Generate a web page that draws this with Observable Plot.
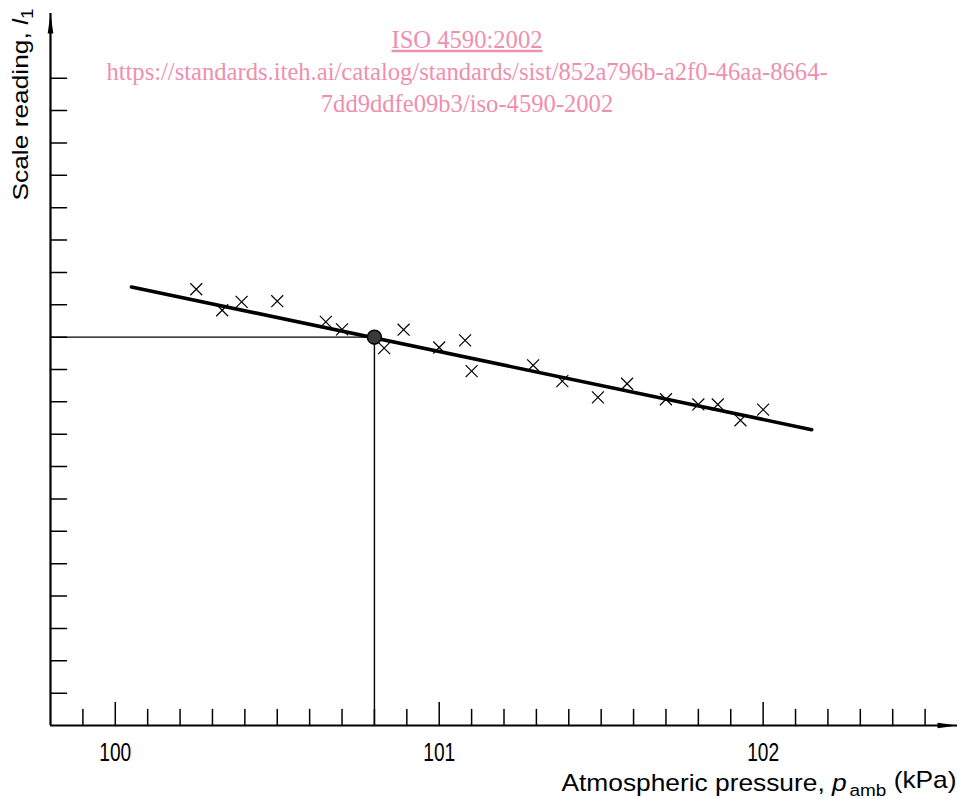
<!DOCTYPE html>
<html>
<head>
<meta charset="utf-8">
<script src="https://cdn.jsdelivr.net/npm/d3@7"></script>
<script src="https://cdn.jsdelivr.net/npm/@observablehq/plot@0.6"></script>
<style>
  html, body { margin: 0; padding: 0; background: #fff; }
  #chart svg { display: block; }
</style>
</head>
<body>
<div id="chart"></div>
<script>
// ---- data ----
const pressure = [100.25, 100.33, 100.39, 100.50, 100.65, 100.70, 100.83, 100.89, 101.00, 101.08,
                  101.10, 101.29, 101.38, 101.49, 101.58, 101.70, 101.80, 101.86, 101.93, 102.00];
const reading  = [13.48, 12.83, 13.09, 13.11, 12.47, 12.24, 11.66, 12.23, 11.68, 11.90,
                  10.95, 11.13, 10.64, 10.14, 10.56, 10.08, 9.92, 9.92, 9.43, 9.76];
const fitX = [100.05, 102.15];
const fitY = [13.55, 9.14];
const refX = [100.8];
const refY = [12];
const xMajorTicks = [100, 101, 102];
const xTickLabels = ["100", "101", "102"];
const xMinorTicks = [99.9, 100.1, 100.2, 100.3, 100.4, 100.5, 100.6, 100.7, 100.8, 100.9,
                     101.1, 101.2, 101.3, 101.4, 101.5, 101.6, 101.7, 101.8, 101.9,
                     102.1, 102.2, 102.3, 102.4, 102.5];
const yTicks = [1,2,3,4,5,6,7,8,9,10,11,12,13,14,15,16,17,18,19,20];
const xDomain = [99.8, 102.6];
const yDomain = [0, 22];
const xLabelParts = ["Atmospheric pressure, ", "p", "amb", " (kPa)"];
const yLabelParts = ["Scale reading, ", "l", "1"];
const watermark = ["ISO 4590:2002",
  "https://standards.iteh.ai/catalog/standards/sist/852a796b-a2f0-46aa-8664-",
  "7dd9ddfe09b3/iso-4590-2002"];

// ---- tables built from the arrays ----
const points = pressure.map((p, i) => ({p, r: reading[i]}));
const fit = fitX.map((x, i) => ({x, y: fitY[i]}));
const ref = refX.map((x, i) => ({x, y: refY[i]}));

const tickShape = { draw(ctx, l) { ctx.moveTo(0, 0); ctx.lineTo(0, -l); } };
const arrowHead = { draw(ctx) { ctx.moveTo(0, 0); ctx.lineTo(-2.8, 20); ctx.lineTo(2.8, 20); ctx.closePath(); } };

const sans = "'Liberation Sans', Arial, sans-serif";
const XKEY = "__xlabel__", YKEY = "__ylabel__";

const chart = Plot.plot({
  width: 960,
  height: 799,
  marginLeft: 50,
  marginRight: 3,
  marginTop: 13,
  marginBottom: 74,
  x: {domain: xDomain, axis: null},
  y: {domain: yDomain, axis: null},
  style: {fontFamily: sans, background: "#fff"},
  marks: [
    // axes
    Plot.ruleY([yDomain[0]], {x1: xDomain[0], x2: xDomain[1], stroke: "black", strokeWidth: 2.2}),
    Plot.ruleX([xDomain[0]], {y1: yDomain[0], y2: yDomain[1], stroke: "black", strokeWidth: 2.2}),
    Plot.dot([{x: xDomain[0], y: yDomain[1]}], {x: "x", y: "y", symbol: arrowHead, fill: "black", stroke: null}),
    Plot.dot([{x: xDomain[1], y: yDomain[0]}], {x: "x", y: "y", symbol: arrowHead, rotate: 90, fill: "black", stroke: null}),
    Plot.vector(xMinorTicks, {x: d => d, y: yDomain[0], length: 16, rotate: 0, anchor: "start", shape: tickShape, stroke: "black", strokeWidth: 1.5}),
    Plot.vector(xMajorTicks, {x: d => d, y: yDomain[0], length: 23, rotate: 0, anchor: "start", shape: tickShape, stroke: "black", strokeWidth: 1.5}),
    Plot.vector(yTicks, {x: xDomain[0], y: d => d, length: 16, rotate: 90, anchor: "start", shape: tickShape, stroke: "black", strokeWidth: 1.5}),
    Plot.text(xTickLabels, {x: (d, i) => xMajorTicks[i], y: yDomain[0], text: d => d, dy: 27, fontSize: 25, fill: "black"}),
    // data
    Plot.dot(points, {x: "p", y: "r", symbol: "times", r: 5.5, stroke: "black", strokeWidth: 1.2}),
    Plot.line(fit, {x: "x", y: "y", stroke: "black", strokeWidth: 3.6}),
    Plot.ruleY(ref, {y: "y", x1: xDomain[0], x2: "x", stroke: "black", strokeWidth: 1.4}),
    Plot.ruleX(ref, {x: "x", y1: yDomain[0], y2: "y", stroke: "black", strokeWidth: 1.4}),
    Plot.dot(ref, {x: "x", y: "y", r: 7, fill: "#3a3a3a", stroke: "black", strokeWidth: 1.5}),
    // labels
    Plot.text([XKEY], {frameAnchor: "bottom-right", text: d => d, textAnchor: "end", dx: -1, dy: 65, fontSize: 24, fill: "black"}),
    Plot.text([YKEY], {frameAnchor: "top-left", text: d => d, textAnchor: "end", rotate: -90, dx: -38, dy: -5, fontSize: 22, fill: "black"}),
    // watermark
    Plot.text([watermark.join("\n")], {frameAnchor: "top", text: d => d, dx: -37, dy: 56, lineAnchor: "middle", lineHeight: 1.3, fontSize: 24.6, fontFamily: "'Liberation Serif', 'Times New Roman', serif", fill: "#ef8fae"})
  ]
});

// rich labels (italic variables and subscripts) and condensed tick labels
d3.select(chart).selectAll("text").each(function () {
  const t = d3.select(this);
  const c = this.textContent;
  if (c === XKEY) {
    t.text(null);
    t.append("tspan").text(xLabelParts[0]);
    t.append("tspan").attr("font-style", "italic").text(xLabelParts[1]);
    t.append("tspan").attr("font-size", "0.72em").attr("dy", "0.32em").attr("dx", "0.15em").text(xLabelParts[2]);
    t.append("tspan").attr("dy", "-0.32em").text(xLabelParts[3]);
    t.attr("textLength", 395).attr("lengthAdjust", "spacingAndGlyphs");
  } else if (c === YKEY) {
    t.text(null);
    t.append("tspan").text(yLabelParts[0]);
    t.append("tspan").attr("font-style", "italic").text(yLabelParts[1]);
    t.append("tspan").attr("font-size", "0.72em").attr("dy", "0.32em").text(yLabelParts[2]);
    t.attr("textLength", 192).attr("lengthAdjust", "spacingAndGlyphs");
  } else if (xTickLabels.includes(c)) {
    t.attr("textLength", 32).attr("lengthAdjust", "spacingAndGlyphs");
  }
});
d3.select(chart).selectAll("tspan").each(function () {
  if (this.textContent === watermark[0]) d3.select(this).attr("text-decoration", "underline");
});

document.getElementById("chart").appendChild(chart);
</script>
</body>
</html>
